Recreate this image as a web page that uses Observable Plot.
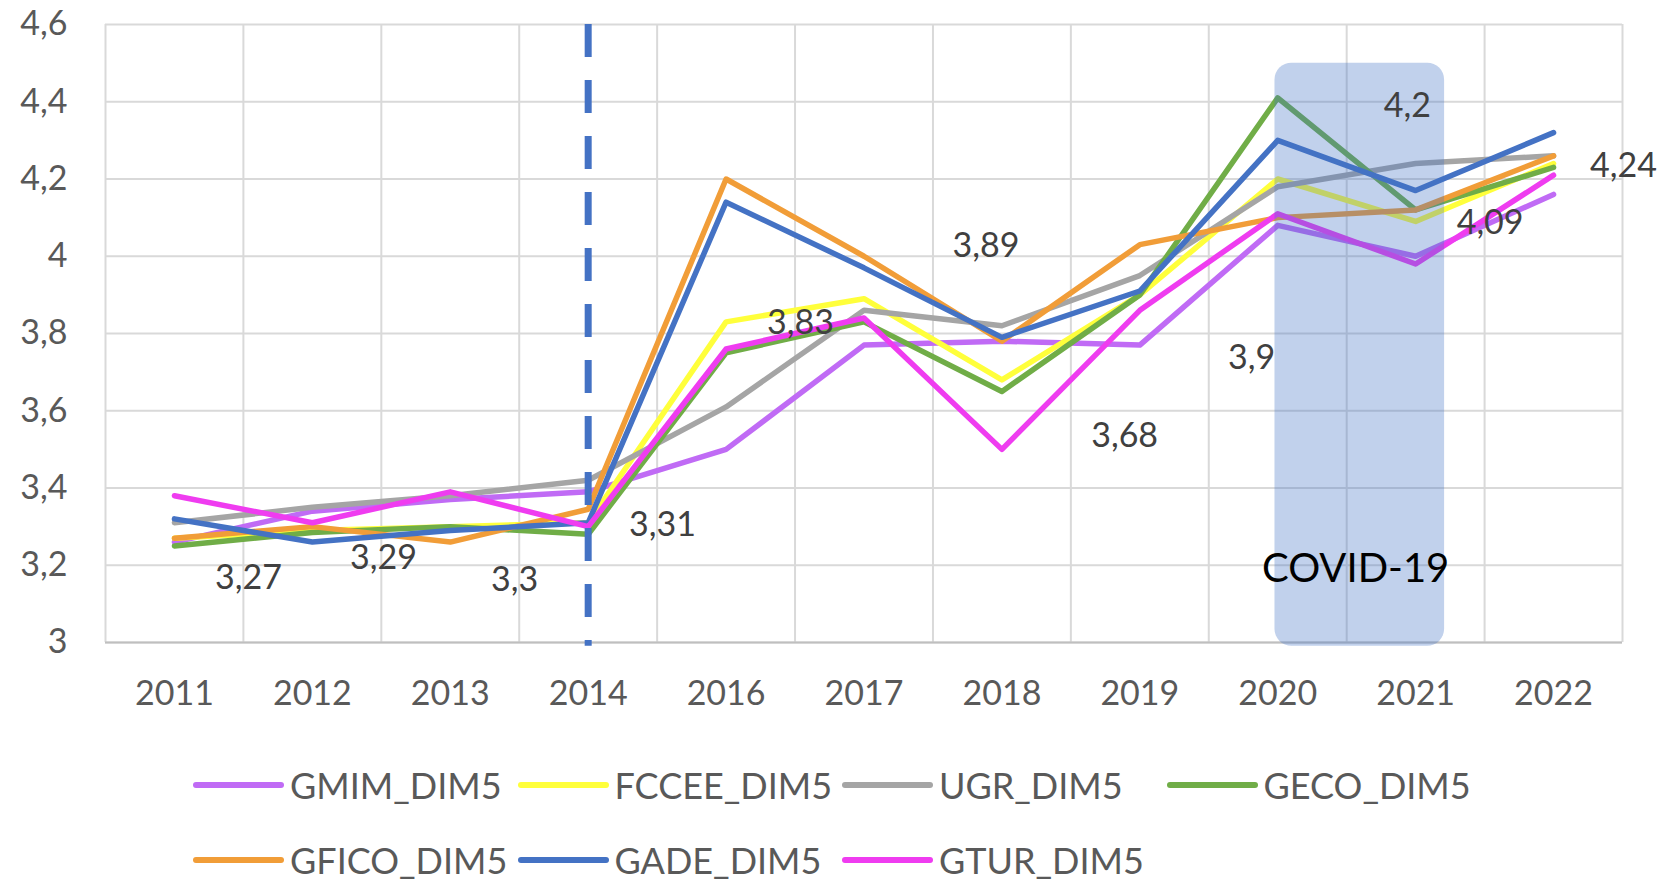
<!DOCTYPE html>
<html><head><meta charset="utf-8">
<script src="https://cdn.jsdelivr.net/npm/d3@7"></script>
<script src="https://cdn.jsdelivr.net/npm/@observablehq/plot@0.6"></script>
<style>
body{margin:0;background:#fff;font-family:Lato, sans-serif;}
#legend{position:relative;height:141px;width:1671px;}
.item{position:absolute;display:flex;align-items:center;height:40px;font-size:36px;color:#595959;white-space:nowrap;}
.sw{width:91px;height:6px;border-radius:3px;margin-right:6px;}
</style></head><body>
<div id="chart"></div>
<div id="legend"></div>
<script>
const years = ["2011","2012","2013","2014","2016","2017","2018","2019","2020","2021","2022"];
const seriesNames = ["GMIM_DIM5","FCCEE_DIM5","UGR_DIM5","GECO_DIM5","GFICO_DIM5","GADE_DIM5","GTUR_DIM5"];
const seriesColors = ["#c06bf5","#ffff3b","#a5a5a5","#70ad47","#f19d38","#4472c4","#ef3cf0"];

const GMIM  = [3.26, 3.34, 3.37, 3.39, 3.50, 3.77, 3.78, 3.77, 4.08, 4.00, 4.16];
const FCCEE = [3.27, 3.29, 3.30, 3.31, 3.83, 3.89, 3.68, 3.90, 4.20, 4.09, 4.24];
const UGR   = [3.31, 3.35, 3.38, 3.42, 3.61, 3.86, 3.82, 3.95, 4.18, 4.24, 4.26];
const GECO  = [3.25, 3.285, 3.30, 3.28, 3.75, 3.83, 3.65, 3.90, 4.41, 4.12, 4.23];
const GFICO = [3.27, 3.30, 3.26, 3.345, 4.20, 4.00, 3.78, 4.03, 4.10, 4.12, 4.26];
const GADE  = [3.32, 3.26, 3.29, 3.31, 4.14, 3.97, 3.79, 3.91, 4.30, 4.17, 4.32];
const GTUR  = [3.38, 3.31, 3.39, 3.30, 3.76, 3.84, 3.50, 3.86, 4.11, 3.98, 4.21];

const yTicks = [3, 3.2, 3.4, 3.6, 3.8, 4, 4.2, 4.4, 4.6];
const yTickLabels = ["3","3,2","3,4","3,6","3,8","4","4,2","4,4","4,6"];

// Data labels (FCCEE values) and their annotation anchor points in data units
const dataLabels = ["3,27","3,29","3,3","3,31","3,83","3,89","3,68","3,9","4,2","4,09","4,24"];
const labelAtX = [0.537, 1.516, 2.466, 3.539, 4.54, 5.885, 6.89, 7.81, 8.94, 9.54, 10.507];
const labelAtY = [3.166, 3.219, 3.162, 3.305, 3.827, 4.025, 3.535, 3.737, 4.39, 4.087, 4.234];

// Annotations
const reformYear = 3;              // index of 2014
const covidSpan = {x1: 7.98, x2: 9.21, y1: 2.99, y2: 4.50};
const covidText = {text: "COVID-19", x: 8.565, y: 3.191};

const allSeries = [GMIM, FCCEE, UGR, GECO, GFICO, GADE, GTUR];
const rows = [];
allSeries.forEach((vals, s) => vals.forEach((v, i) => rows.push({series: seriesNames[s], i, v})));
const labelRows = dataLabels.map((t, k) => ({t, x: labelAtX[k], y: labelAtY[k]}));
const gridX = d3.range(years.length + 1).map(i => i - 0.5);

const chart = Plot.plot({
  width: 1671,
  height: 740,
  marginLeft: 105,
  marginRight: 49,
  marginTop: 24,
  marginBottom: 98,
  style: {fontFamily: "Lato, sans-serif", background: "#fff", color: "#595959"},
  x: {domain: [-0.5, years.length - 0.5]},
  y: {domain: [3, 4.6]},
  color: {domain: seriesNames, range: seriesColors},
  marks: [
    Plot.ruleY(yTicks, {stroke: "#d9d9d9", strokeWidth: 2}),
    Plot.ruleX(gridX, {stroke: "#d9d9d9", strokeWidth: 2}),
    Plot.ruleY([3], {stroke: "#bfbfbf", strokeWidth: 2}),
    Plot.line(rows, {x: "i", y: "v", z: "series", stroke: "series", strokeWidth: 5.5, strokeLinejoin: "round", strokeLinecap: "round"}),
    Plot.ruleX([reformYear], {y1: () => 4.6, y2: () => 2.99, stroke: "#4472c4", strokeWidth: 7, strokeDasharray: "33,23"}),
    Plot.rect([covidSpan], {x1: "x1", x2: "x2", y1: "y1", y2: "y2", fill: "#4472c4", fillOpacity: 0.33, rx: 17, ry: 17}),
    Plot.text([covidText], {x: "x", y: "y", text: "text", fontSize: 40, fill: "#000"}),
    Plot.text(labelRows, {x: "x", y: "y", text: "t", fontSize: 34, fill: "#404040"}),
    Plot.axisY(yTicks, {tickFormat: d => yTickLabels[yTicks.indexOf(d)], tickSize: 0, tickPadding: 38, fontSize: 34, fill: "#595959"}),
    Plot.axisX(d3.range(years.length), {tickFormat: i => years[i], tickSize: 0, tickPadding: 38, fontSize: 34, fill: "#595959"})
  ]
});
document.getElementById("chart").appendChild(chart);

const legend = document.getElementById("legend");
seriesNames.forEach((name, k) => {
  const row = k < 4 ? 0 : 1;
  const col = k < 4 ? k : k - 4;
  const item = document.createElement("div");
  item.className = "item";
  item.style.left = (193 + col * 324.5) + "px";
  item.style.top = (row === 0 ? 25 : 100) + "px";
  const sw = document.createElement("div");
  sw.className = "sw";
  sw.style.background = seriesColors[k];
  const tx = document.createElement("span");
  tx.textContent = name;
  item.appendChild(sw);
  item.appendChild(tx);
  legend.appendChild(item);
});
</script>
</body></html>
